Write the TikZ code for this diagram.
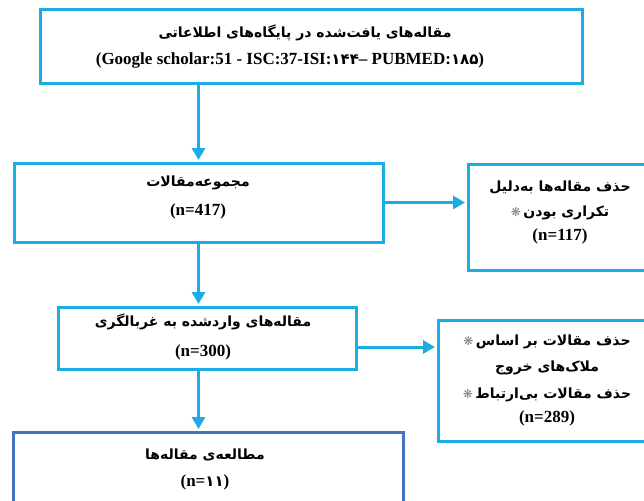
\documentclass[tikz,border=0pt]{standalone}
\usepackage{fontspec}
\setmainfont{Liberation Serif}
\newfontfamily\fa[Script=Arabic]{DejaVu Sans}
\newfontfamily\symf{DejaVu Sans}
\TeXXeTstate=1
\usetikzlibrary{arrows.meta}
\definecolor{cy}{RGB}{27,172,228}
\definecolor{bl}{RGB}{70,114,196}
\newcommand{\fat}[1]{{\fa\bfseries\fontsize{14}{17}\selectfont\beginR #1\endR}}
\newcommand{\lat}[1]{{\bfseries\fontsize{17}{20}\selectfont #1}}
\newcommand{\pd}[1]{{\fa\bfseries\fontsize{15}{17}\selectfont #1}}
\newcommand{\blt}{{\symf\fontsize{12}{14}\selectfont\color{gray}❋}}
\begin{document}
\begin{tikzpicture}[x=1pt,y=-1pt,
  box/.style={draw=cy,line width=3pt,inner sep=0pt,fill=white},
  txt/.style={inner sep=0pt,align=center},
  arr/.style={draw=cy,line width=3pt,-{Triangle[width=13pt,length=12pt]}}]
\useasboundingbox (0,0) rectangle (644,500);
\clip (0,0) rectangle (644,500);
% boxes
\node[box,minimum width=542pt,minimum height=74pt] (b1) at (311,47) {};
\node[box,minimum width=369pt,minimum height=79pt] (b2) at (198.5,202.5) {};
\node[box,minimum width=184pt,minimum height=106pt] (r1) at (560,217) {};
\node[box,minimum width=298pt,minimum height=62pt] (b3) at (207,338) {};
\node[box,minimum width=218pt,minimum height=121pt] (r2) at (547,380.5) {};
\node[box,draw=bl,minimum width=390pt,minimum height=100pt] (b4) at (208,482) {};
% texts
\node[txt] (t1a) at (305,33) {\fat{مقاله^^^^200cهای یافت^^^^200cشده در پایگاه^^^^200cهای اطلاعاتی}};
\node[txt] (t1b) at (290,60) {\lat{(Google scholar:51 - ISC:37-ISI:\pd{۱۴۴}– PUBMED:\pd{۱۸۵})}};
\node[txt] (t2a) at (198,183) {\fat{مجموعه^^^^200cمقالات}};
\node[txt] (t2b) at (198,211) {\lat{(n=417)}};
\node[txt] (r1a) at (560,187) {\fat{حذف مقاله^^^^200cها به^^^^200cدلیل}};
\node[txt] (r1b) at (560,213) {\blt\ \fat{تکراری بودن}};
\node[txt] (r1c) at (560,236) {\lat{(n=117)}};
\node[txt] (t3a) at (203,322) {\fat{مقاله^^^^200cهای واردشده به غربالگری}};
\node[txt] (t3b) at (203,352) {\lat{(n=300)}};
\node[txt] (r2a) at (547,342) {\blt\ \fat{حذف مقالات بر اساس}};
\node[txt] (r2b) at (547,368) {\fat{ملاک^^^^200cهای خروج}};
\node[txt] (r2c) at (547,395) {\blt\ \fat{حذف مقالات بی^^^^200cارتباط}};
\node[txt] (r2d) at (547,418) {\lat{(n=289)}};
\node[txt] (t4a) at (205,455) {\fat{مطالعه^^^^200cی مقاله^^^^200cها}};
\node[txt] (t4b) at (205,482) {\lat{(n=\pd{۱۱})}};
% arrows
\draw[arr] (b1.south -| b2.north) -- ([yshift=1.5pt]b2.north);
\draw[arr] (b2.south) -- ([yshift=1.5pt]b2.south |- b3.north);
\draw[arr] (b2.south |- b3.south) -- ([yshift=1.5pt]b2.south |- b4.north);
\draw[arr] (b2.east) -- ([xshift=-1.5pt]b2.east -| r1.west);
\draw[arr] ([yshift=-9pt]b3.east) -- ([yshift=-9pt,xshift=-1.5pt]b3.east -| r2.west);
\end{tikzpicture}
\end{document}
